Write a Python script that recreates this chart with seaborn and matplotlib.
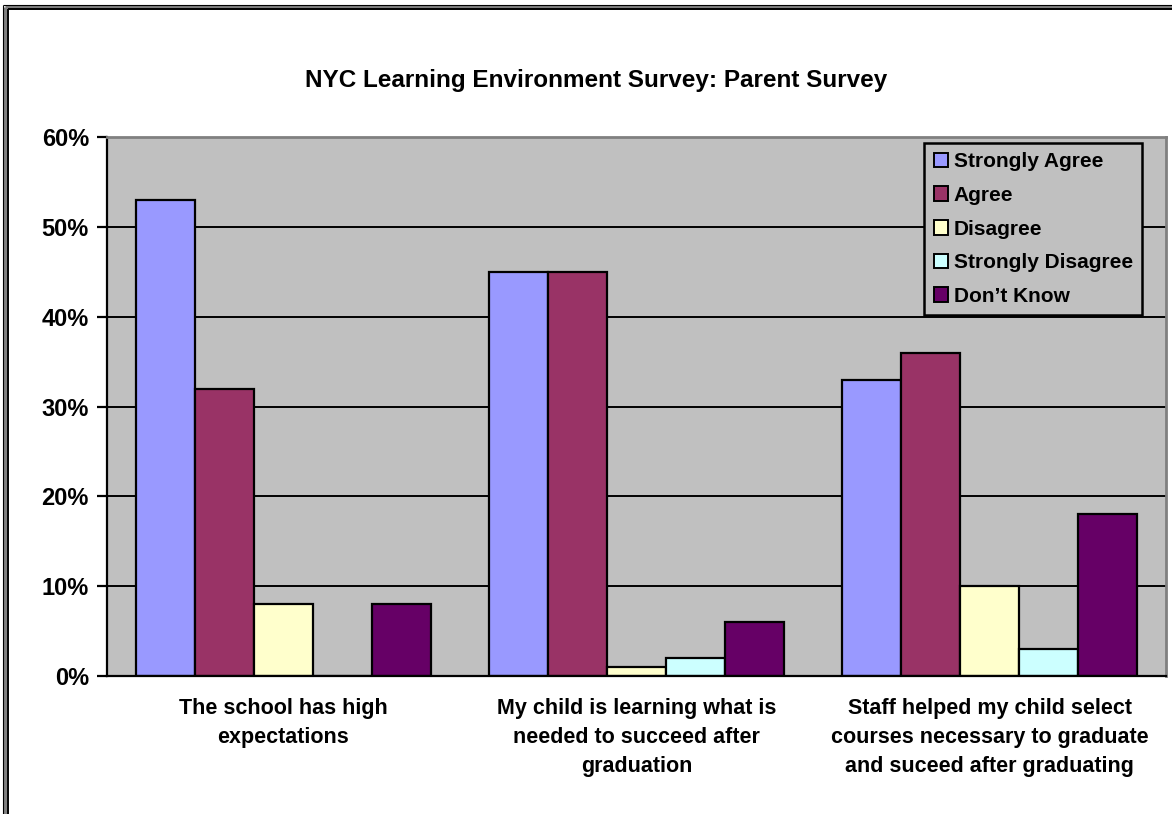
import matplotlib
matplotlib.use("Agg")
import matplotlib.pyplot as plt
import seaborn as sns
import pandas as pd
from matplotlib.lines import Line2D
from matplotlib.ticker import FixedLocator, PercentFormatter

categories = [
    "The school has high\nexpectations",
    "My child is learning what is\nneeded to succeed after\ngraduation",
    "Staff helped my child select\ncourses necessary to graduate\nand suceed after graduating",
]
responses = ["Strongly Agree", "Agree", "Disagree", "Strongly Disagree", "Don\u2019t Know"]
strongly_agree = [53, 45, 33]
agree = [32, 45, 36]
disagree = [8, 1, 10]
strongly_disagree = [0, 2, 3]
dont_know = [8, 6, 18]
colors = ["#9999FF", "#993366", "#FFFFCC", "#CCFFFF", "#660066"]

series = [strongly_agree, agree, disagree, strongly_disagree, dont_know]
rows = []
for resp, vals in zip(responses, series):
    for cat, v in zip(categories, vals):
        rows.append({"Question": cat, "Response": resp, "Value": v})
df = pd.DataFrame(rows)

sns.set_style("white")
plt.rcParams["font.family"] = ["Liberation Sans", "DejaVu Sans"]
plt.rcParams["font.weight"] = "bold"
plt.rcParams["text.color"] = "black"
plt.rcParams["xtick.color"] = "black"
plt.rcParams["ytick.color"] = "black"
plt.rcParams["axes.labelcolor"] = "black"

W, H = 1172, 814
fig = plt.figure(figsize=(W / 100, H / 100), dpi=100)
ax = fig.add_axes([107 / W, 1 - 676 / H, (1166 - 107) / W, (676 - 137) / H])
ax.set_facecolor("#C0C0C0")

sns.barplot(data=df, x="Question", y="Value", hue="Response", hue_order=responses,
            order=categories, palette=colors, width=5 / 6, gap=0,
            edgecolor="black", linewidth=1.6, ax=ax, legend=True, errorbar=None,
            saturation=1)

ax.set_ylim(0, 60)
ax.set_xlim(-0.5, 2.5)
ax.set_yticks(range(0, 61, 10))
ax.yaxis.set_major_formatter(PercentFormatter(decimals=0))
ax.grid(False)
for y in range(10, 60, 10):
    ax.axhline(y, color="black", linewidth=1.4, zorder=0.5)

ax.set_xlabel("")
ax.set_ylabel("")
ax.set_xticks(range(3))
ax.set_xticklabels(categories, fontsize=15.5, fontweight="bold", linespacing=1.5,
                   color="black")
ax.tick_params(axis="x", which="major", length=0, pad=16)
ax.xaxis.set_minor_locator(FixedLocator([-0.5, 0.5, 1.5, 2.5]))
ax.tick_params(axis="x", which="minor", length=7, width=1.6, direction="out", color="black")
ax.tick_params(axis="y", length=7, width=1.6, direction="out", color="black",
               labelsize=17, pad=6, left=True, labelcolor="black")
for lab in ax.get_yticklabels():
    lab.set_fontweight("bold")

for side in ["top", "right"]:
    ax.spines[side].set_visible(True)
    ax.spines[side].set_color("#808080")
    ax.spines[side].set_linewidth(2)
for side in ["left", "bottom"]:
    ax.spines[side].set_color("black")
    ax.spines[side].set_linewidth(1.6)

leg = ax.legend(loc="upper right", bbox_to_anchor=((1142 - 107) / 1059, 1 - 6 / 539),
                frameon=True, fancybox=False, edgecolor="black", facecolor="#C0C0C0",
                prop={"weight": "bold", "size": 15}, handlelength=0.7,
                handleheight=0.7, handletextpad=0.25, labelspacing=0.7,
                borderpad=0.45, borderaxespad=0, labelcolor="black")
leg.get_frame().set_linewidth(1.8)
leg.get_frame().set_alpha(1)
for h in leg.legend_handles:
    h.set_edgecolor("black")
    h.set_linewidth(1.4)

fig.text(596 / W, 1 - 80 / H, "NYC Learning Environment Survey: Parent Survey",
         ha="center", va="center", fontsize=17.5, fontweight="bold", color="black")

# outer chart-area border (left and top visible only)
def px_line(x0, y0, x1, y1, color, lw):
    fig.add_artist(Line2D([x0 / W, x1 / W], [1 - y0 / H, 1 - y1 / H],
                          transform=fig.transFigure, color=color, linewidth=lw,
                          solid_capstyle="butt"))

px_line(5, 6.5, W, 6.5, "#808080", 2.2)
px_line(5, 6.5, 5, H, "#808080", 2.2)
px_line(3, 5, W, 5, "black", 0.8)
px_line(3, 5, 3, H, "black", 0.8)
px_line(7.5, 9, W, 9, "black", 1.4)
px_line(7.5, 9, 7.5, H, "black", 1.4)

fig.savefig("out.png", dpi=100)
